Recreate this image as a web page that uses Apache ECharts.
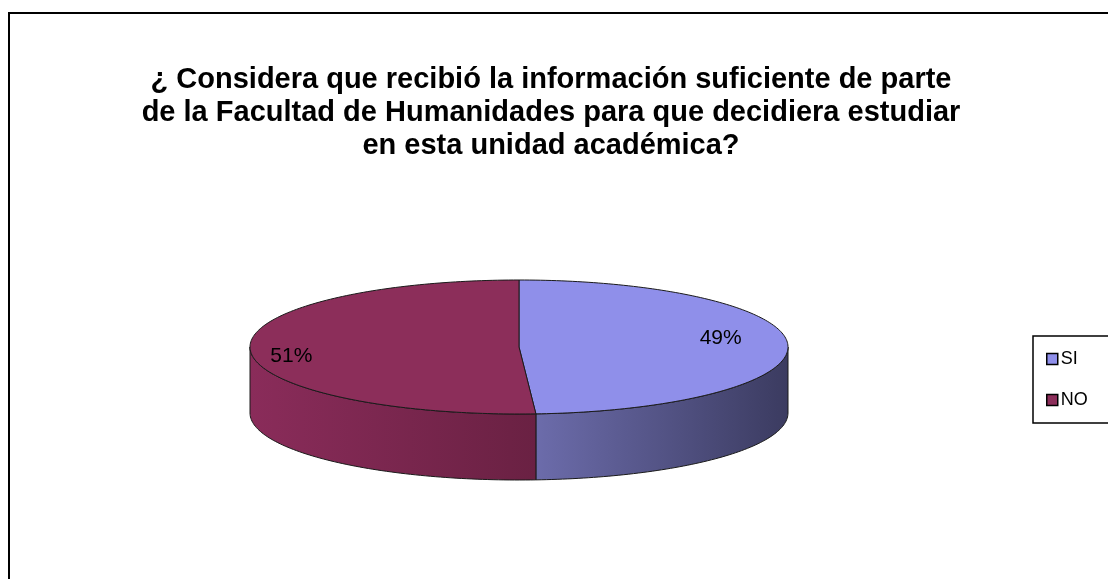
<!DOCTYPE html>
<html>
<head>
<meta charset="utf-8">
<script src="https://cdn.jsdelivr.net/npm/echarts@6/dist/echarts.min.js"></script>
<style>
  html, body { margin: 0; padding: 0; background: #fff; }
  #chart { width: 1108px; height: 579px; }
</style>
</head>
<body>
<div id="chart"></div>
<script>
// data
const categories = ['SI', 'NO']
const values = [49, 51]
const titleText = '¿ Considera que recibió la información suficiente de parte\nde la Facultad de Humanidades para que decidiera estudiar\nen esta unidad académica?'

// styles
const topColors = ['#8f8fea', '#8c2e5a']
const sideStops = [
  ['#6c6cab', '#3b3b60'],
  ['#8a2c5a', '#6a2143'],
]

// pie geometry (ellipse of the top face)
const cx = 519, cy = 347, rx = 269, ry = 67, depth = 66
// excel puts the labels a bit rotated / shifted
const labelRot = -8 * Math.PI / 180, labelR = 0.81, labelDx = -13

const total = values.reduce((a, b) => a + b, 0)

function pt(theta, dy) {
  return [cx + rx * Math.sin(theta), cy - ry * Math.cos(theta) + (dy || 0)]
}

function arcPoints(a, b, dy) {
  const pts = []
  const n = Math.max(2, Math.ceil(Math.abs(b - a) / 0.02))
  for (let k = 0; k <= n; k++) pts.push(pt(a + (b - a) * k / n, dy))
  return pts
}

function makeRender(idx) {
  return function (params, api) {
    const before = values.slice(0, idx).reduce((a, b) => a + b, 0)
    const a0 = before / total * Math.PI * 2
    const a1 = a0 + api.value(0) / total * Math.PI * 2
    const children = []

    // visible front side: theta between 90 and 270 deg
    const s0 = Math.max(a0, Math.PI / 2)
    const s1 = Math.min(a1, Math.PI * 1.5)
    if (s1 > s0) {
      const top = arcPoints(s0, s1, 0)
      const bottom = arcPoints(s1, s0, depth)
      children.push({
        type: 'polygon',
        z2: 1,
        shape: { points: top.concat(bottom) },
        style: {
          fill: new echarts.graphic.LinearGradient(0, 0, 1, 0, [
            { offset: 0, color: sideStops[idx][0] },
            { offset: 1, color: sideStops[idx][1] },
          ]),
          stroke: '#1a1a1a',
          lineWidth: 1,
        },
      })
    }

    // top face
    children.push({
      type: 'polygon',
      z2: 5,
      shape: { points: [[cx, cy]].concat(arcPoints(a0, a1, 0)) },
      style: { fill: topColors[idx], stroke: '#1a1a1a', lineWidth: 1 },
    })

    // percent label
    const mid = (a0 + a1) / 2 + labelRot
    children.push({
      type: 'text',
      z2: 10,
      x: cx + rx * labelR * Math.sin(mid) + labelDx,
      y: cy - ry * labelR * Math.cos(mid),
      style: {
        text: Math.round(api.value(0) / total * 100) + '%',
        fill: '#000',
        font: '21px "Liberation Sans", Arial, sans-serif',
        align: 'center',
        verticalAlign: 'middle',
      },
    })

    return { type: 'group', children }
  }
}

const chart = echarts.init(document.getElementById('chart'))

chart.setOption({
  animation: false,
  title: {
    text: titleText,
    left: 546,
    top: 58,
    textAlign: 'center',
    textStyle: {
      fontFamily: '"Liberation Sans", Arial, sans-serif',
      fontSize: 29,
      fontWeight: 'bold',
      lineHeight: 33,
      color: '#000',
      align: 'center',
    },
  },
  legend: {
    data: categories,
    orient: 'vertical',
    left: 1033,
    top: 336,
    padding: [14, 60, 14, 13],
    borderColor: '#000',
    borderWidth: 1.5,
    itemWidth: 11,
    itemHeight: 11,
    itemGap: 23,
    icon: 'rect',
    itemStyle: { borderColor: '#000', borderWidth: 1.5 },
    textStyle: {
      fontFamily: '"Liberation Sans", Arial, sans-serif',
      fontSize: 18,
      color: '#000',
      padding: [0, 0, 0, -2],
    },
  },
  graphic: [
    {
      type: 'rect',
      silent: true,
      shape: { x: 9, y: 13, width: 1200, height: 700 },
      style: { fill: 'none', stroke: '#000', lineWidth: 2 },
    },
  ],
  series: categories.map((name, i) => ({
    type: 'custom',
    name,
    coordinateSystem: 'none',
    itemStyle: { color: topColors[i] },
    data: [[values[i]]],
    renderItem: makeRender(i),
  })),
})
</script>
</body>
</html>
